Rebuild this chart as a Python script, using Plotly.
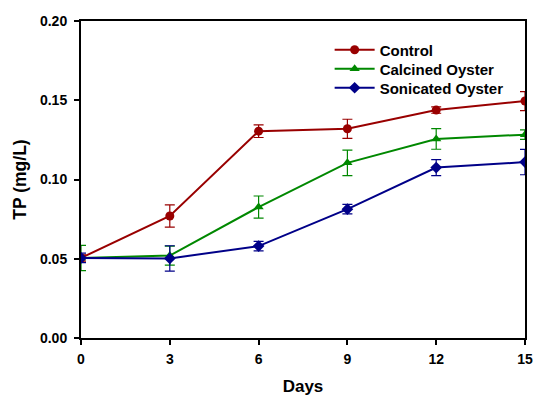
import plotly.graph_objects as go

days = [0, 3, 6, 9, 12, 15]
control = [0.0505, 0.077, 0.1305, 0.132, 0.1438, 0.1495]
control_err = [0.002, 0.007, 0.004, 0.006, 0.002, 0.006]
calcined = [0.0505, 0.052, 0.0826, 0.1105, 0.1256, 0.1283]
calcined_err = [0.008, 0.006, 0.007, 0.008, 0.0065, 0.003]
sonicated = [0.0505, 0.0502, 0.0580, 0.0813, 0.1075, 0.1110]
sonicated_err = [0.003, 0.008, 0.003, 0.003, 0.005, 0.008]

series = [
    ("Control", control, control_err, "#990000", "circle", "legend"),
    ("Calcined Oyster", calcined, calcined_err, "#008800", "triangle-up", "legend2"),
    ("Sonicated Oyster", sonicated, sonicated_err, "#000088", "diamond", "legend3"),
]

fig = go.Figure()
for name, vals, errs, color, sym, leg in series:
    fig.add_trace(go.Scatter(
        x=days, y=vals, name=name, mode="lines+markers", legend=leg,
        line=dict(color=color, width=2),
        marker=dict(symbol=sym, size=9, color=color),
        error_y=dict(type="data", array=errs, visible=True, color=color,
                     thickness=1.2, width=5),
    ))

fam = "Liberation Sans, Arial, sans-serif"
leg_font = dict(size=15, family=fam, color="black", weight="bold")
leg_common = dict(x=0.56, xanchor="left", yanchor="middle",
                  bgcolor="rgba(0,0,0,0)", font=leg_font, itemwidth=40)
fig.update_layout(
    width=536, height=396,
    margin=dict(l=81, r=11, t=21, b=58),
    paper_bgcolor="white", plot_bgcolor="white",
    font=dict(family=fam, color="black"),
    showlegend=True,
    legend=dict(y=0.9085, **leg_common),
    legend2=dict(y=0.8486, **leg_common),
    legend3=dict(y=0.7886, **leg_common),
)
fig.update_xaxes(
    range=[0, 15], tickvals=days, ticktext=[str(d) for d in days],
    showgrid=False, zeroline=False, automargin=False,
    showline=True, linecolor="black", linewidth=2, mirror=True,
    ticks="outside", ticklen=5, tickwidth=1.5, tickcolor="black",
    tickfont=dict(size=14, weight="bold"), ticklabelstandoff=2,
    title=dict(text="<b>Days</b>", font=dict(size=17), standoff=14),
)
fig.update_yaxes(
    range=[0, 0.20], tickvals=[0, 0.05, 0.10, 0.15, 0.20],
    tickformat=".2f",
    showgrid=False, zeroline=False, automargin=False,
    showline=True, linecolor="black", linewidth=2, mirror=True,
    ticks="outside", ticklen=5, tickwidth=1.5, tickcolor="black",
    tickfont=dict(size=14, weight="bold"), ticklabelstandoff=4,
    title=dict(text="<b>TP (mg/L)</b>", font=dict(size=17.5), standoff=9),
)

fig.write_html("out.html", config={"displayModeBar": False},
               post_script="document.body.style.margin='0';document.body.style.overflow='hidden';")
